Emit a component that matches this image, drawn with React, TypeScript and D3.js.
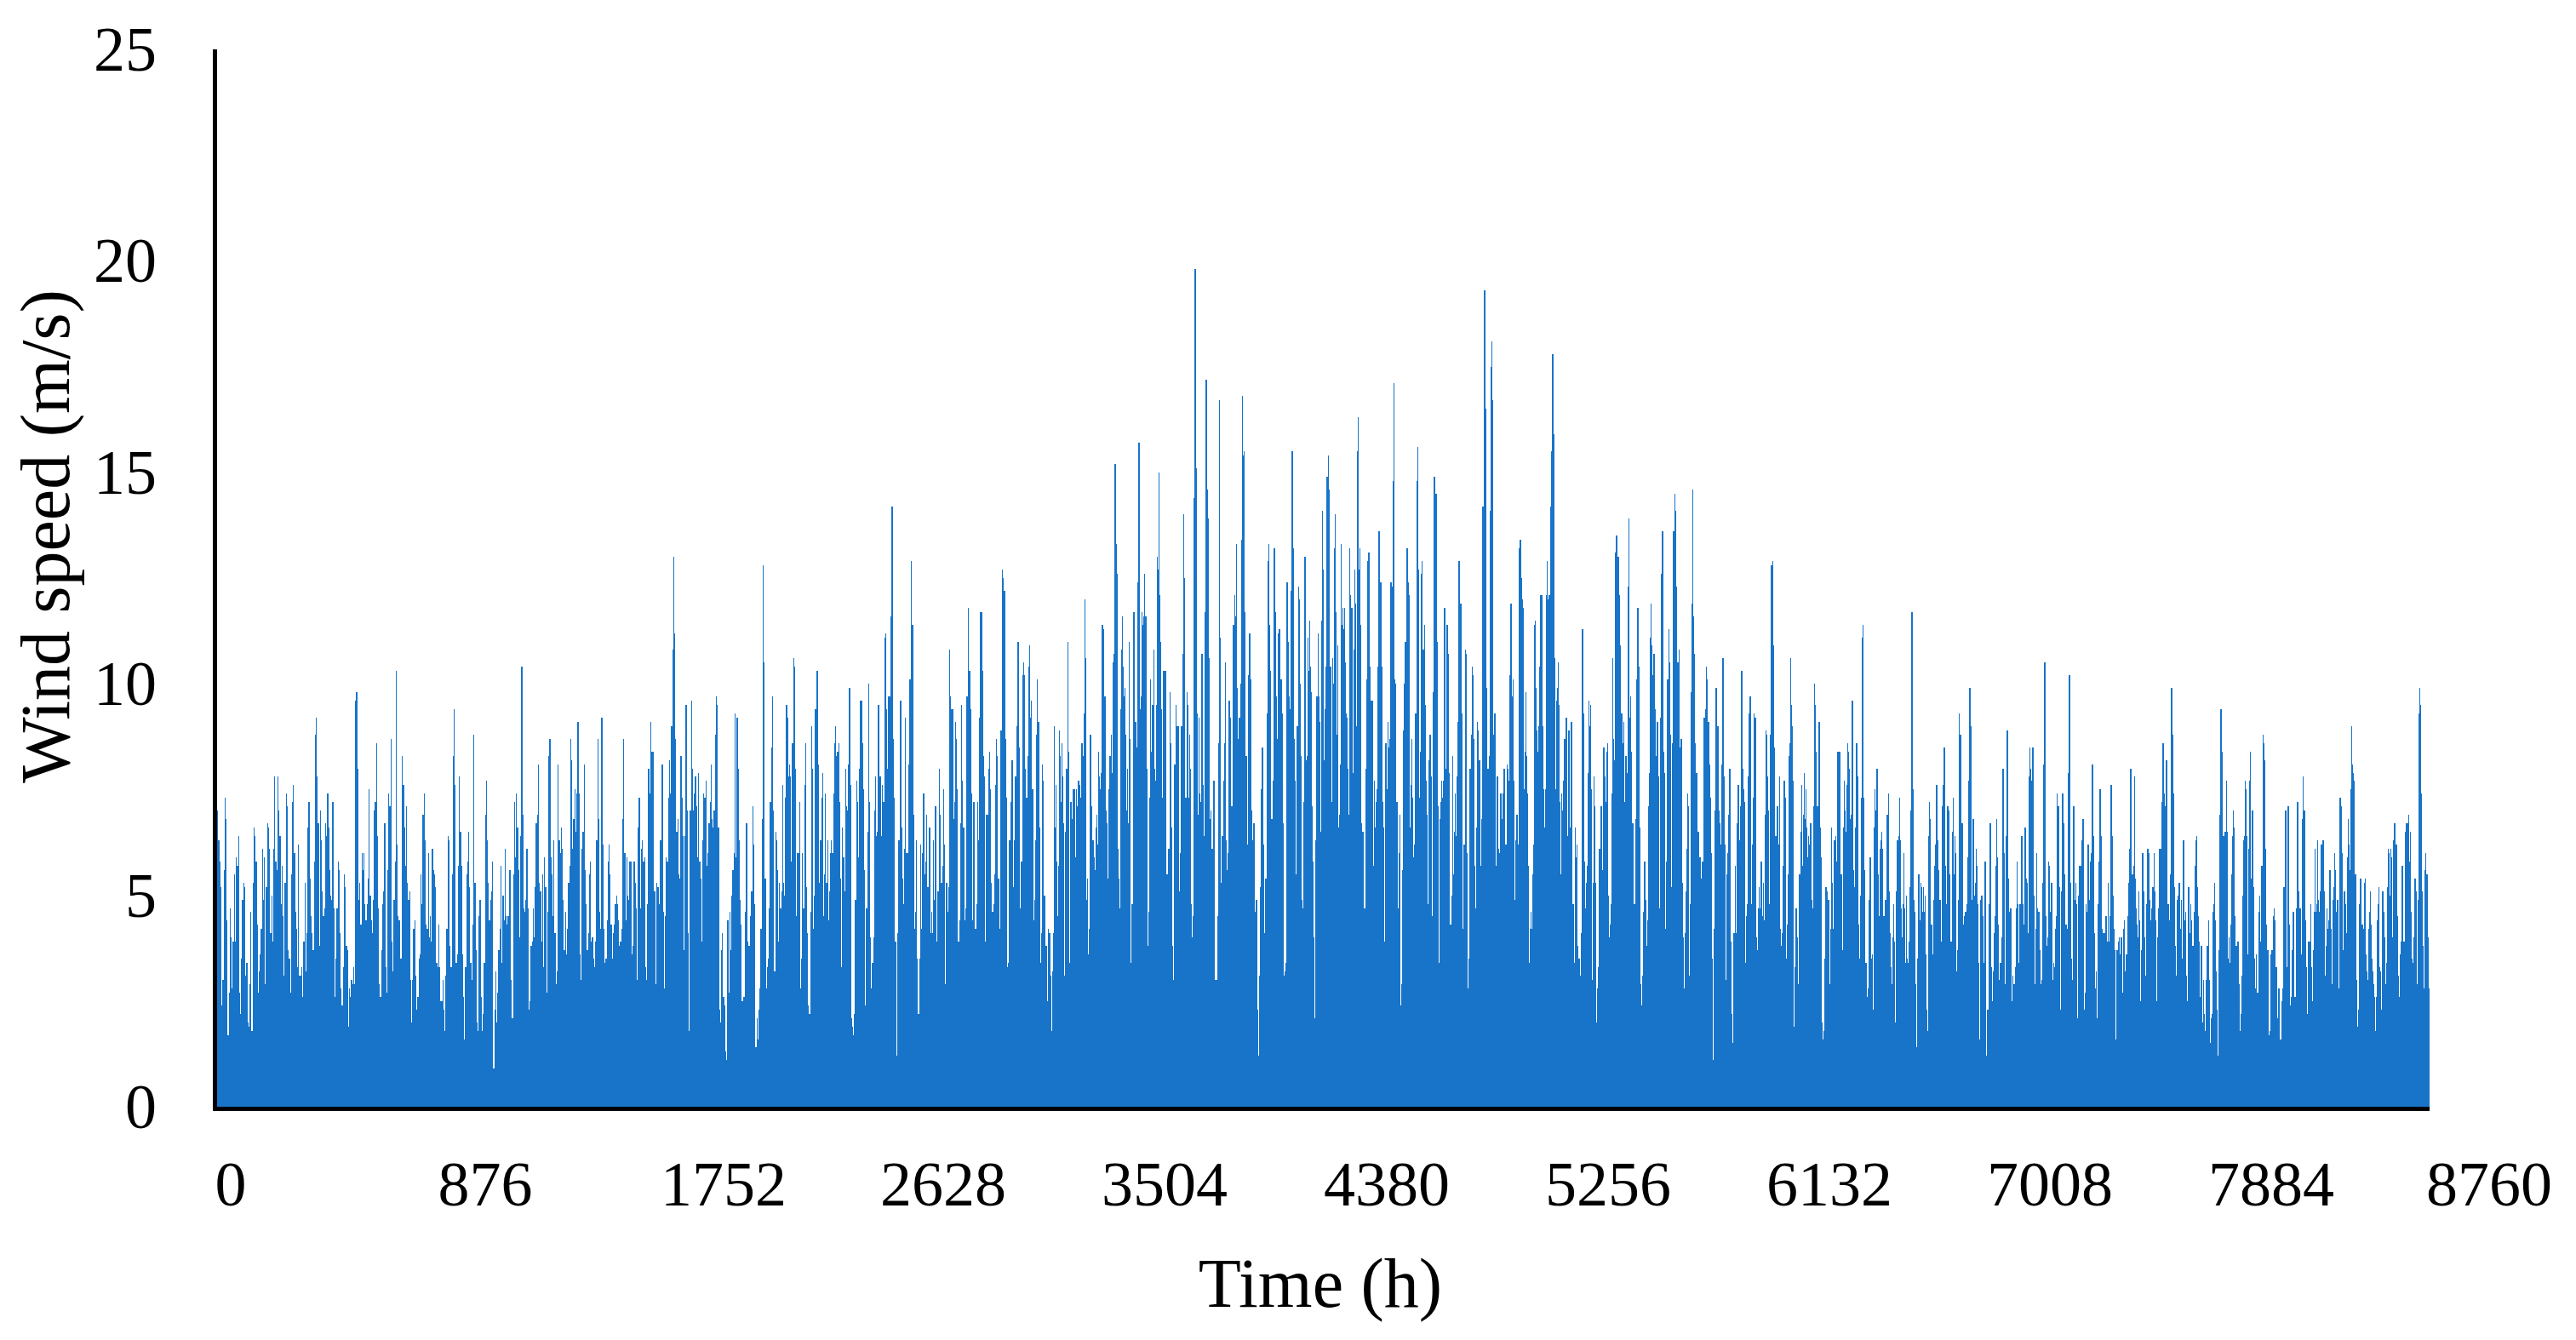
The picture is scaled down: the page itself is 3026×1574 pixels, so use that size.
import React from "react";
import * as d3 from "d3";

// Hourly wind speed (m/s).
// Each segment array is spread evenly over its hour range.
const segHours: [number, number][] = [
  [0, 1096], [1096, 2208], [2208, 3320], [3320, 4434],
  [4434, 5545], [5545, 6656], [6656, 7768], [7768, 8760],
];

const segA = [6.0,7.0,6.3,5.8,5.2,2.4,3.0,5.6,7.3,6.8,4.4,1.7,2.7,4.7,4.0,2.8,3.9,5.5,3.9,5.9,5.7,6.4,2.7,2.2,3.5,4.9,5.3,5.2,3.1,3.4,2.0,1.9,2.9,4.6,1.8,5.3,6.6,6.4,5.8,4.3,2.7,3.2,3.6,4.2,6.1,4.9,5.9,2.9,5.2,6.7,6.6,6.1,4.1,5.0,3.9,6.1,7.8,5.8,5.6,7.8,7.0,6.4,4.8,5.7,4.5,3.1,5.3,7.4,7.1,3.7,3.5,2.7,5.5,7.2,7.6,6.0,4.6,4.2,3.3,6.2,3.1,3.1,3.3,2.6,3.9,5.3,3.2,4.1,6.6,7.2,5.4,4.5,4.1,3.7,5.8,8.8,9.2,7.8,6.7,3.8,7.0,6.3,5.1,4.5,4.7,6.7,6.4,7.4,6.6,5.6,5.0,4.9,7.2,4.7,2.6,3.5,4.7,5.8,5.6,4.1,2.8,2.4,3.3,5.5,5.2,3.8,3.7,1.9,2.8,2.6,3.0,2.9,3.3,2.9,9.6,9.8,8.0,4.9,5.3,4.3,6.0,5.6,6.0,4.8,4.4,4.8,5.4,7.5,5.0,4.4,4.1,4.9,7.0,7.2,8.6,6.4,4.7,2.9,2.6,3.7,4.8,5.1,6.7,3.3,2.7,5.6,7.4,7.1,8.7,3.9,3.2,4.9,5.8,10.3,6.2,4.5,4.4,3.5,3.5,8.3,7.6,6.6,5.7,7.1,5.3,4.9,5.1,3.0,2.0,3.0,4.2,4.4,3.1,2.3,2.6,3.5,3.6,5.5,4.8,6.9,7.4,6.3,4.3,4.2,6.0,4.0,4.5,3.9,6.1,5.6,5.5,5.2,3.4,3.3,4.3,3.3,2.5,2.5,3.0,2.3,1.8,3.1,4.2,6.4,6.3,3.8,3.3,5.5,8.3,9.4,7.6,3.4,3.6,5.7,7.8,6.5,5.7,3.6,2.6,1.6,3.3,5.5,5.8,6.5,5.2,3.4,3.0,4.3,8.8,5.3,3.7,2.0,1.8,4.5,4.9,2.6,1.8,2.2,3.4,6.9,7.7,6.3,5.3,4.4,4.9,5.1,5.8];

const segB = [0.9,2.3,3.2,2.0,2.7,3.7,4.2,5.7,3.4,5.0,4.4,6.1,4.5,4.3,4.5,5.6,5.6,3.0,2.1,5.5,7.2,5.9,7.4,6.6,5.6,4.0,6.4,10.4,6.9,4.7,4.6,4.9,6.1,4.7,2.3,2.5,3.8,3.9,4.7,4.0,5.2,6.7,6.9,8.1,5.3,5.1,3.9,5.5,3.3,5.9,5.2,2.7,4.6,8.3,8.7,5.9,5.5,4.5,6.3,4.1,2.9,3.2,8.1,6.3,6.0,6.6,6.1,4.9,3.7,4.6,3.6,4.2,5.3,5.7,8.7,8.2,6.1,6.8,7.5,6.5,7.4,9.1,7.4,3.6,3.0,6.1,6.5,8.1,5.6,4.8,3.7,4.1,5.5,5.8,3.9,4.0,3.5,3.3,3.9,6.3,8.7,6.8,4.6,4.2,9.2,6.2,4.2,3.4,3.5,4.4,5.8,6.2,5.5,4.3,3.5,4.1,4.3,4.8,5.0,4.8,4.4,3.8,3.9,4.2,6.8,8.7,6.0,4.4,5.9,5.0,4.9,5.8,5.8,3.6,3.8,5.8,5.3,4.7,3.0,6.6,7.3,4.7,6.1,6.3,5.8,5.9,3.3,3.0,4.8,8.0,7.4,9.1,8.4,8.4,5.1,5.1,2.9,5.3,5.2,4.8,6.3,6.3,8.1,4.6,2.8,4.5,5.9,5.8,7.3,8.2,7.4,9.0,10.8,13.0,11.2,8.7,6.5,6.8,5.5,5.4,8.3,7.3,6.4,3.7,6.4,9.5,7.0,4.1,1.8,7.0,9.6,8.0,7.0,7.4,7.8,7.1,5.9,7.9,5.8,5.4,3.9,6.3,7.4,7.3,7.7,5.7,6.0,6.7,7.2,8.1,6.8,6.6,7.0,8.8,9.7,9.5,6.6,2.3,2.0,3.7,4.1,2.6,2.4,1.3,1.1,4.4,2.7,4.6,3.7,5.0,5.6,6.0,9.3,5.9,9.2,8.0,6.3,4.9,4.3,2.5,2.6,2.6,4.6,6.7,3.9,3.8,3.8,4.5,5.1,7.1,6.2,4.8,1.4,2.1,1.6,2.3,2.8,4.2,6.8,12.8,10.5,5.4,2.8,3.3,3.5,4.7,7.2,8.5,9.7,7.0];

const segC = [3.2,6.5,6.3,5.6,3.9,5.3,4.7,5.1,7.6,5.3,5.0,7.3,9.5,9.2,7.8,8.1,7.8,5.8,8.6,10.6,10.4,8.0,4.5,6.0,6.0,7.2,2.8,3.5,6.0,4.7,7.6,8.6,5.2,4.1,2.4,2.2,4.6,9.0,8.0,4.2,5.0,9.4,10.3,10.3,8.1,5.3,6.3,7.3,7.9,4.5,5.5,7.4,5.3,6.3,4.4,5.1,6.0,6.3,6.0,7.4,8.6,9.0,8.3,8.4,8.6,7.2,5.4,3.3,6.6,5.9,5.1,8.0,7.1,7.0,8.1,9.9,7.6,2.1,1.9,1.7,2.2,4.9,7.7,7.2,5.9,8.0,9.6,9.6,8.6,7.5,5.6,2.4,4.7,6.5,10.0,7.2,4.0,2.8,3.4,4.0,7.0,7.8,6.4,6.5,9.5,7.8,7.8,6.4,7.6,7.2,11.1,11.2,9.4,8.0,9.7,9.7,11.6,14.2,14.2,8.7,7.3,3.9,1.2,4.1,6.3,6.3,9.6,6.6,5.4,4.8,6.1,9.2,6.0,6.0,8.1,10.1,10.1,12.9,11.4,6.9,4.2,4.6,6.3,3.5,2.2,3.5,6.2,4.2,6.0,7.4,5.5,5.8,6.9,5.2,5.2,6.6,4.1,4.6,4.1,6.3,4.9,7.1,3.9,5.1,5.1,8.0,6.9,5.3,5.7,7.5,6.2,2.9,5.3,4.6,5.2,10.8,9.7,9.4,9.4,6.8,7.2,9.1,8.7,7.5,3.9,4.4,6.7,9.5,7.7,6.6,4.4,4.7,9.7,9.7,11.8,10.3,9.4,7.4,4.4,7.2,7.2,4.2,4.8,7.2,6.3,9.2,11.7,11.7,10.3,8.3,7.8,3.9,6.9,6.9,8.0,8.4,7.5,5.3,4.6,4.8,5.5,7.6,8.7,8.3,5.4,4.2,8.9,8.9,12.7,12.5,12.2,8.7,7.3,3.3,3.4,6.3,7.2,8.2,8.2,5.2,6.3,7.8,9.0,11.0,11.0,8.5,4.7,5.8,10.2,10.5,10.2,8.0,7.3,8.3,10.4,10.9,9.2,9.6,7.5,4.4,4.9,6.3,8.8,10.1,9.1,6.6,3.4,4.1,8.1,7.7,5.0,3.8,3.8,2.5,4.2,4.1,3.1,1.8,3.2,4.1,9.0];

const segD = [6.6,7.6,5.8,4.5,5.7,8.9,8.3,7.2,8.6,7.8,6.7,3.1,6.5,8.0,8.0,11.0,8.4,3.4,7.2,7.2,6.8,7.5,7.5,5.9,7.5,7.1,7.7,7.7,7.6,7.3,8.6,8.6,8.3,9.3,12.0,10.6,4.9,5.4,3.6,4.2,8.8,8.8,7.1,6.3,6.3,5.9,5.6,6.6,6.9,6.2,8.4,7.8,7.5,7.9,11.4,11.4,11.3,9.7,9.7,7.0,6.7,5.4,7.5,8.3,8.3,8.8,7.9,10.5,10.7,15.2,15.2,13.3,12.6,6.1,5.4,4.7,9.4,10.8,11.6,10.4,9.7,9.9,8.8,7.0,8.0,6.7,11.0,8.7,3.4,4.8,4.8,11.7,11.7,9.1,9.1,8.5,12.4,15.7,15.7,9.4,9.7,11.7,11.4,11.6,12.6,11.6,11.6,8.0,3.8,4.6,7.3,10.1,8.4,9.5,9.5,10.8,8.0,7.7,9.5,13.0,12.7,15.0,12.1,11.0,9.4,7.3,10.3,10.3,10.3,10.3,5.5,5.5,6.1,6.1,9.8,8.6,6.6,3.8,3.0,8.1,8.1,9.5,9.0,9.0,9.0,5.1,6.0,9.0,9.0,10.7,14.0,12.5,7.3,7.3,9.8,9.5,7.3,8.8,8.0,4.8,4.0,4.5,14.4,19.8,19.8,15.1,9.3,6.9,9.2,7.4,7.2,10.7,10.7,7.6,6.4,11.7,17.2,17.2,14.6,13.9,10.6,6.8,7.0,6.1,6.1,7.7,7.7,3.0,3.0,3.0,4.5,8.6,16.7,11.1,5.3,6.4,6.4,7.7,8.6,10.5,6.3,5.6,6.0,9.6,9.6,9.2,7.1,7.1,11.4,11.4,12.1,11.6,13.3,9.9,8.7,9.2,9.2,10.0,13.4,16.8,15.4,15.5,11.7,8.3,6.2,10.2,11.2,11.2,10.1,7.0,6.3,6.7,6.7,4.6,4.9,4.9,2.3,1.2,3.1,5.2,7.5,8.5,8.5,6.2,4.1,5.4,5.4,9.3,12.9,13.3,11.4,10.3,6.8,6.8,7.7,13.2,13.2,11.7,9.7,8.7,11.2,11.3,11.3,10.1,10.1,9.3,6.7,3.1,3.2,3.4,12.4,12.4,11.0,9.7,9.4,12.2,15.5,15.5,13.2,8.7,7.7,5.5,9.0,9.0,12.3,12.0,10.0,8.3,4.9,4.7,7.2,13.0,13.0,8.2,8.3,11.1,10.3,11.5,10.4,9.8,7.1,5.8,4.0,2.1,6.3,9.7,9.7,11.2,9.7,9.1,6.5,11.5,14.1,12.7,8.2,9.4,10.4,14.9,14.9,15.4,14.6,10.4,10.4,7.2,10.6,10.0,13.2,14.0,11.7];

const segE = [8.8,10.9,6.6,6.9,8.1,13.3,11.4,11.8,11.3,11.8,10.5,9.3,9.2,8.0,6.9,13.2,12.1,11.8,11.8,7.9,10.8,12.7,11.9,9.0,15.5,16.3,12.7,13.2,11.4,6.7,6.5,6.5,4.7,8.0,10.1,12.9,13.1,13.1,10.4,9.6,9.6,9.6,5.7,7.7,6.6,7.2,7.5,10.4,13.6,13.6,12.4,12.4,10.4,7.2,6.6,3.9,8.6,8.6,7.5,9.1,8.5,8.7,12.4,12.4,12.3,14.8,17.1,10.1,10.0,7.2,7.2,4.7,6.0,6.9,2.4,2.9,5.6,8.9,10.0,11.0,11.0,13.2,13.2,12.4,12.1,6.6,7.6,8.7,7.3,5.9,6.2,9.3,9.3,14.8,15.6,12.7,7.3,8.4,12.6,12.9,10.8,11.4,9.5,7.7,6.9,4.8,8.2,8.8,8.8,7.8,4.5,9.8,14.9,14.9,14.5,14.5,11.0,7.1,3.4,6.8,7.2,7.7,7.3,7.7,11.8,11.8,8.0,11.4,11.4,10.7,7.9,4.3,4.3,5.0,8.3,5.5,6.5,7.4,6.4,7.8,9.1,12.9,12.9,11.9,11.9,9.3,4.2,6.2,6.2,10.8,10.7,6.0,2.8,3.5,8.0,8.0,8.8,10.4,10.2,8.7,5.7,4.7,6.6,9.1,8.9,8.2,8.2,5.7,6.8,14.2,19.3,19.3,16.5,9.9,8.0,8.0,8.3,14.1,17.5,18.1,16.7,8.8,9.3,9.3,5.7,7.8,7.8,6.1,6.0,7.4,7.4,6.8,7.4,8.0,8.0,6.2,6.2,8.1,8.0,7.7,10.2,11.9,11.9,9.7,10.1,7.7,4.9,6.3,6.9,6.9,6.2,13.2,13.4,13.4,12.5,12.0,11.8,7.5,8.4,9.8,8.3,7.4,5.7,3.4,4.2,4.6,4.2,5.5,6.2,11.4,11.5,9.9,8.9,8.4,9.0,10.4,12.1,12.1,9.0,7.5,6.6,7.5,12.1,12.9,12.0,12.1,12.1,14.2,15.5,17.8,17.8,15.9,10.6,7.5,9.6,9.9,10.5,9.5,7.2,5.5,7.4,7.0,7.7,8.7,8.7,9.2,9.2,6.4,8.9,8.9,6.6,9.1,9.1,4.8,4.8,3.4,6.6,5.9,6.2,3.8,3.5,3.5,3.1,4.1,11.3,11.3,9.3,5.8,4.7,5.3,5.7,7.9,9.6,9.0,9.5,7.5,3.0,5.3,7.8,7.1,5.3,2.0,2.8,3.3,6.1,6.1,7.1,5.6,8.5,8.5,7.8,7.2,8.4,8.6,5.0,4.0,4.3,4.8,7.4,10.6,8.7,8.2,13.1,13.5,13.5];

const segF = [13.0,13.0,12.1,10.9,9.3,9.3,8.6,9.1,7.2,8.3,8.3,7.9,12.3,13.9,9.2,9.7,8.4,6.7,6.7,4.8,4.8,6.8,10.1,11.8,11.8,10.4,6.6,2.9,2.4,3.1,4.6,5.8,5.8,4.9,3.8,4.4,7.1,7.9,11.1,11.9,10.9,10.2,10.7,10.7,9.4,8.3,9.1,9.1,7.8,4.7,9.2,12.6,13.6,13.6,8.4,7.9,4.2,5.8,10.1,10.1,11.3,10.5,8.8,5.2,8.6,13.6,13.6,14.5,14.1,12.3,10.5,10.5,10.8,8.5,8.7,8.7,5.3,4.0,2.8,4.1,5.1,6.1,7.4,7.1,3.1,4.8,9.8,11.9,14.6,11.6,10.7,8.6,7.9,7.9,6.5,6.5,5.9,5.9,5.4,5.8,5.8,9.2,9.2,9.4,10.4,10.1,9.1,9.1,8.1,7.3,6.0,3.5,1.1,4.2,7.0,9.9,9.9,9.0,9.0,7.0,6.7,6.2,8.1,10.6,10.6,7.8,6.2,3.0,5.5,6.0,6.9,8.0,8.0,3.9,2.2,1.5,4.1,4.1,5.7,4.1,6.7,7.6,7.6,6.3,7.1,10.3,10.3,8.0,7.5,7.2,3.4,4.5,4.8,7.8,9.3,9.7,9.7,4.8,6.2,7.3,9.3,9.2,9.2,4.0,3.7,4.7,5.2,4.7,5.8,5.8,4.5,5.3,4.4,6.9,8.9,8.8,7.8,7.0,4.8,8.8,12.8,12.8,12.9,10.9,8.5,6.4,6.4,7.1,7.1,6.2,7.8,4.2,3.8,4.1,5.7,7.7,7.7,7.3,3.5,4.3,5.5,8.3,8.6,10.6,9.5,9.0,7.7,1.9,3.3,4.7,4.7,4.0,2.9,5.5,5.5,6.5,7.6,5.7,6.9,7.9,6.8,7.5,6.6,5.9,6.4,6.2,6.7,6.7,4.9,4.7,7.1,10.0,9.5,8.4,7.1,7.1,9.1,9.1,6.6,5.9,2.0,1.6,1.8,3.5,5.2,5.2,5.1,4.9,4.9,2.9,4.2,6.6,5.3,4.2,6.3,6.3,6.4,5.8,8.4,8.4,8.4,8.4,5.5,5.5,3.7,6.6,7.7,7.0,6.5,7.6,8.6,8.4,8.0,6.8,6.9,9.6,9.6,5.6,5.2,6.6,8.6,8.6,7.8,4.3,3.5,5.0,7.3,11.1,11.4,7.3,5.6,3.4,3.4,2.6,2.8,4.9,5.9,5.9,3.5,3.6,2.3,6.6,7.5,7.0,8.0,8.0,5.5,4.5,6.1,6.3,6.5,6.1,4.5,4.5,4.9,4.9,6.9,6.9,7.4,5.1,4.1,3.3,2.9,4.0,4.8,3.9,2.0,5.1,6.3,6.3];

const segG = [6.4,7.3,6.3,4.7,4.0,4.8,6.0,4.7,3.4,5.0,3.5,3.4,3.9,5.2,7.0,11.7,11.7,7.5,4.9,4.6,2.9,1.4,3.5,5.5,5.5,4.4,5.3,5.2,4.6,5.2,4.6,5.0,3.6,2.3,1.8,6.4,7.2,6.8,4.3,4.3,3.6,4.9,5.7,6.2,7.6,7.6,6.3,5.6,4.9,4.9,3.9,7.1,7.6,8.5,8.5,5.7,4.8,7.1,7.1,7.0,5.5,3.9,3.9,6.5,7.3,5.5,6.4,6.0,3.2,3.7,4.9,9.3,8.8,8.8,6.7,6.7,4.3,4.5,4.6,4.6,4.8,5.9,7.7,9.9,9.9,9.0,4.9,6.8,6.8,5.0,5.3,6.1,5.7,4.8,3.4,1.6,4.9,5.0,5.0,4.5,3.4,5.8,5.8,1.2,2.3,2.3,4.8,6.7,6.7,3.3,2.5,3.2,4.1,4.5,5.7,6.8,5.9,4.3,3.0,3.4,3.4,4.0,8.0,8.0,6.0,2.9,6.4,8.9,8.9,5.4,4.6,4.7,4.7,2.5,3.1,2.9,2.9,3.3,4.7,5.8,4.8,3.4,4.8,4.8,6.4,6.4,4.8,4.3,6.6,6.6,5.4,5.3,4.1,7.8,8.5,8.0,7.7,8.5,8.5,5.0,2.9,4.2,6.0,4.7,4.6,4.6,3.7,2.9,3.0,5.3,8.1,10.5,10.5,4.5,3.8,4.0,5.8,5.7,4.6,5.3,5.3,3.0,3.4,3.3,4.2,4.5,7.4,7.1,7.1,5.2,2.3,5.1,7.4,7.4,6.7,5.5,4.3,4.3,4.2,7.9,10.2,10.2,5.3,3.5,3.0,7.1,7.1,4.9,5.3,4.8,2.1,5.0,5.7,5.7,5.7,6.3,6.8,6.8,2.3,2.7,4.8,4.6,6.2,6.2,4.9,5.8,6.0,8.1,8.1,6.4,4.1,2.8,3.2,2.1,4.8,5.8,7.5,7.5,6.4,4.2,4.1,4.1,4.1,4.5,4.5,3.9,5.3,3.9,4.5,7.6,7.6,6.4,5.0,4.2,3.7,1.6,3.7,3.7,3.9,4.0,3.6,4.0,4.0,2.7,4.2,4.4,3.2,3.6,3.6,4.5,5.3,6.1,8.0,8.0,5.5,5.5,5.7,7.8,5.4,4.7,4.3,4.0,5.1,4.4,2.5,3.7,6.0,6.0,5.1,4.0,3.1,4.8,6.1,6.1,6.0,4.9,4.4,4.7,5.2,5.2,6.0,5.1,4.4,2.5,4.0,4.7,6.1,6.1,6.1,7.2,8.6,8.6,7.4,7.1,8.2,8.2,4.8,4.8,4.4,5.5,9.9,9.9,8.8,7.4,5.2,3.8,3.1,4.9,5.0,5.3];

const segH = [5.3,4.2,4.9,3.5,6.3,6.3,4.4,4.6,3.1,2.5,5.2,5.2,4.1,4.8,4.4,3.8,3.8,4.6,5.7,6.3,6.4,5.2,4.5,3.9,2.6,3.8,3.8,2.0,3.0,2.2,1.8,3.0,3.8,3.8,4.4,3.0,1.2,1.5,2.1,2.2,4.6,4.8,5.3,4.4,3.2,2.3,1.2,3.7,6.9,9.4,9.4,8.4,6.4,6.4,6.5,6.5,7.7,6.5,3.5,4.0,3.4,4.3,5.5,6.4,7.0,6.6,4.5,3.8,3.8,3.9,3.9,2.9,1.8,2.2,3.1,5.0,6.3,6.4,7.7,7.5,6.4,3.6,6.1,7.7,8.4,5.4,7.0,7.0,5.2,3.5,2.8,3.6,2.7,2.7,4.6,5.0,3.9,5.7,5.7,8.8,8.6,8.2,6.1,4.3,3.7,3.7,1.7,1.8,3.6,3.7,3.7,4.5,4.7,4.4,3.3,3.3,2.1,2.8,2.8,1.6,1.6,2.5,2.8,5.2,5.2,7.0,7.0,3.3,7.1,7.1,4.3,2.4,2.6,3.7,4.6,4.6,2.6,2.6,4.7,7.2,7.2,5.1,4.7,4.7,3.6,6.8,7.8,7.0,7.0,4.4,3.3,2.2,3.9,3.9,3.9,4.8,3.3,2.5,3.7,4.6,6.1,4.6,4.8,6.3,4.9,4.6,5.1,6.2,6.2,6.3,6.3,5.1,3.1,3.8,4.7,4.2,4.4,5.6,5.6,4.2,2.9,4.9,5.2,6.0,5.6,4.6,4.9,4.9,2.8,7.3,7.3,7.1,6.0,3.7,5.1,5.1,4.8,4.1,5.9,6.8,6.2,5.6,7.5,9.0,8.1,7.9,7.7,5.5,5.5,3.0,1.9,2.3,4.8,5.4,5.4,4.3,4.3,4.2,5.3,5.4,3.6,3.2,3.0,4.2,4.6,5.1,4.3,3.5,3.2,2.9,2.6,1.8,2.6,4.4,4.8,5.2,3.3,3.2,2.3,5.1,5.1,4.6,4.0,2.9,3.4,5.2,6.1,6.0,5.0,6.1,5.9,4.0,6.3,6.7,6.7,6.2,6.2,4.5,3.1,2.6,3.6,3.9,5.7,5.7,3.9,3.9,6.5,6.7,6.7,6.7,6.9,5.8,6.5,4.6,3.5,3.4,4.0,5.4,5.4,5.1,2.9,4.9,9.3,9.9,9.5,7.4,5.1,3.8,2.8,5.6,6.0,5.5,5.5,4.0,2.8];

const segments = [segA, segB, segC, segD, segE, segF, segG, segH];

const xTickValues = [0, 876, 1752, 2628, 3504, 4380, 5256, 6132, 7008, 7884, 8760];
const yTickValues = [0, 5, 10, 15, 20, 25];
const xTitle = "Time (h)";
const yTitle = "Wind speed (m/s)";

// layout
const W = 3026;
const H = 1574;
const plotLeft = 254;
const plotRight = 2854;
const plotTop = 58;
const plotBottom = 1300;
const labelShift = [17, 56, 76, 74, 74, 75, 75, 75, 74, 74, 70];
const FONT = "'Liberation Serif', 'Times New Roman', serif";
const BLUE = "#1874C9";

type Pt = { h: number; v: number };

export default function App() {
  const x = d3.scaleLinear().domain([0, 8760]).range([plotLeft, plotRight]);
  const y = d3.scaleLinear().domain([0, 25]).range([plotBottom, plotTop]);

  const pts: Pt[] = [];
  segments.forEach((seg, si) => {
    const [h0, h1] = segHours[si];
    const step = (h1 - h0) / seg.length;
    seg.forEach((v, i) => pts.push({ h: h0 + i * step, v }));
  });
  pts.push({ h: 8760, v: pts[pts.length - 1].v });

  const area = d3
    .area<Pt>()
    .x((d) => x(d.h))
    .y0(y(0))
    .y1((d) => y(d.v))
    .curve(d3.curveStepAfter);

  return (
    <div style={{ position: "fixed", left: 0, top: 0, width: W, height: H, background: "#fff" }}>
      <svg width={W} height={H} style={{ display: "block" }}>
        <rect x={0} y={0} width={W} height={H} fill="#fff" />
        <path d={area(pts) || ""} fill={BLUE} shapeRendering="crispEdges" />
        {/* axes */}
        <line x1={252.5} x2={252.5} y1={plotTop} y2={plotBottom + 5} stroke="#000" strokeWidth={5} />
        <line x1={250} x2={plotRight} y1={plotBottom + 2.5} y2={plotBottom + 2.5} stroke="#000" strokeWidth={5} />
        {/* y tick labels */}
        {yTickValues.map((t) => (
          <text key={"y" + t} x={184} y={y(t) + 25} textAnchor="end" fontFamily={FONT} fontSize={74} fill="#000">
            {t}
          </text>
        ))}
        {/* x tick labels */}
        {xTickValues.map((t, i) => (
          <text key={"x" + t} x={x(t) + labelShift[i]} y={1416} textAnchor="middle" fontFamily={FONT} fontSize={74} fill="#000">
            {t}
          </text>
        ))}
        <text x={1551} y={1535} textAnchor="middle" fontFamily={FONT} fontSize={82} fill="#000">
          {xTitle}
        </text>
        <text
          transform={`translate(81, 630) rotate(-90)`}
          textAnchor="middle"
          fontFamily={FONT}
          fontSize={82}
          fill="#000"
        >
          {yTitle}
        </text>
      </svg>
    </div>
  );
}
